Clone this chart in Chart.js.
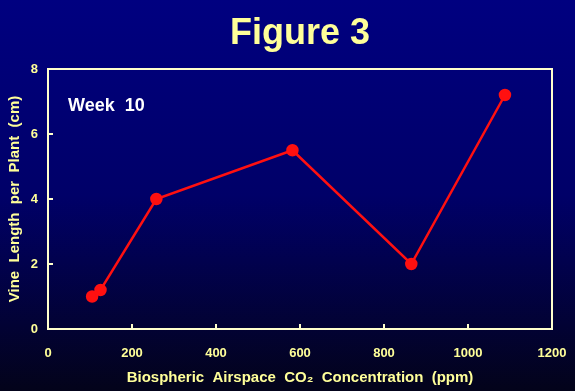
<!DOCTYPE html>
<html>
<head>
<meta charset="utf-8">
<script src="https://cdn.jsdelivr.net/npm/chart.js@4/dist/chart.umd.min.js"></script>
<style>
  html, body { margin: 0; padding: 0; background: #000060; }
  #wrap { width: 575px; height: 391px; }
</style>
</head>
<body>
<div id="wrap"><canvas id="chart" width="575" height="391"></canvas></div>
<script>
// dados
const co2Ppm = [105, 125, 258, 582, 865, 1088];
const vineLength = [1.0, 1.2, 4.0, 5.5, 2.0, 7.2];
const xTicks = [0, 200, 400, 600, 800, 1000, 1200];
const yTicks = [0, 2, 4, 6, 8];

const FONT = '"Liberation Sans", Arial, sans-serif';
const AXIS_COLOR = '#ffffcc';
const TEXT_COLOR = '#ffff99';

// fundo em degradê + moldura com marcas internas
const framePlugin = {
    id: 'frame',
    beforeDraw(chart) {
        const ctx = chart.ctx;
        const g = ctx.createLinearGradient(0, 0, 0, chart.height);
        g.addColorStop(0, '#000080');
        g.addColorStop(0.5, '#000068');
        g.addColorStop(1, '#03031a');
        ctx.save();
        ctx.fillStyle = g;
        ctx.fillRect(0, 0, chart.width, chart.height);
        ctx.restore();
    },
    afterDatasetsDraw(chart) {
        const ctx = chart.ctx;
        const a = chart.chartArea;
        const xs = chart.scales.x, ys = chart.scales.y;
        ctx.save();
        ctx.strokeStyle = AXIS_COLOR;
        ctx.lineWidth = 2;
        ctx.strokeRect(a.left, a.top, a.right - a.left, a.bottom - a.top);
        ctx.beginPath();
        xTicks.slice(1, -1).forEach(v => {
            const px = xs.getPixelForValue(v);
            ctx.moveTo(px, a.bottom);
            ctx.lineTo(px, a.bottom - 5);
        });
        yTicks.slice(1, -1).forEach(v => {
            const py = ys.getPixelForValue(v);
            ctx.moveTo(a.left, py);
            ctx.lineTo(a.left + 5, py);
        });
        ctx.stroke();

        // título e rótulo interno
        ctx.textAlign = 'center';
        ctx.textBaseline = 'middle';
        ctx.fillStyle = TEXT_COLOR;
        ctx.font = 'bold 36px ' + FONT;
        ctx.fillText('Figure 3', 300, 34);
        ctx.textAlign = 'left';
        ctx.fillStyle = '#ffffff';
        ctx.font = 'bold 18px ' + FONT;
        ctx.fillText('Week  10', 68, 106);
        ctx.restore();
    }
};

new Chart(document.getElementById('chart'), {
    type: 'scatter',
    data: {
        datasets: [{
            data: co2Ppm.map((x, i) => ({ x: x, y: vineLength[i] })),
            showLine: true,
            borderColor: '#ff1010',
            backgroundColor: '#ff1010',
            borderWidth: 2.5,
            pointRadius: 5,
            pointHoverRadius: 5
        }]
    },
    options: {
        responsive: false,
        animation: false,
        layout: { padding: { top: 69, right: 23, left: 0, bottom: 0 } },
        plugins: {
            legend: { display: false },
            tooltip: { enabled: false }
        },
        scales: {
            x: {
                type: 'linear',
                min: 0,
                max: 1200,
                afterBuildTicks: s => { s.ticks = xTicks.map(v => ({ value: v })); },
                afterFit: s => {
                    s.height = 62;
                    s.paddingLeft = 0;
                    s.paddingRight = 0;
                },
                grid: { display: false, drawTicks: false },
                border: { display: false },
                ticks: {
                    color: TEXT_COLOR,
                    font: { family: FONT, size: 13, weight: 'bold' },
                    padding: 17,
                    maxRotation: 0,
                    callback: v => String(v)
                },
                title: {
                    display: true,
                    text: 'Biospheric  Airspace  CO\u2082  Concentration  (ppm)',
                    color: TEXT_COLOR,
                    font: { family: FONT, size: 15, weight: 'bold' },
                    padding: { top: 8 }
                }
            },
            y: {
                type: 'linear',
                min: 0,
                max: 8,
                afterBuildTicks: s => { s.ticks = yTicks.map(v => ({ value: v })); },
                afterFit: s => { s.width = 48; },
                grid: { display: false, drawTicks: false },
                border: { display: false },
                ticks: {
                    color: TEXT_COLOR,
                    font: { family: FONT, size: 13, weight: 'bold' },
                    padding: 10,
                    callback: v => String(v)
                },
                title: {
                    display: true,
                    text: 'Vine  Length  per  Plant  (cm)',
                    color: TEXT_COLOR,
                    font: { family: FONT, size: 15, weight: 'bold' },
                    padding: { top: 6, bottom: 0 }
                }
            }
        }
    },
    plugins: [framePlugin]
});
</script>
</body>
</html>
